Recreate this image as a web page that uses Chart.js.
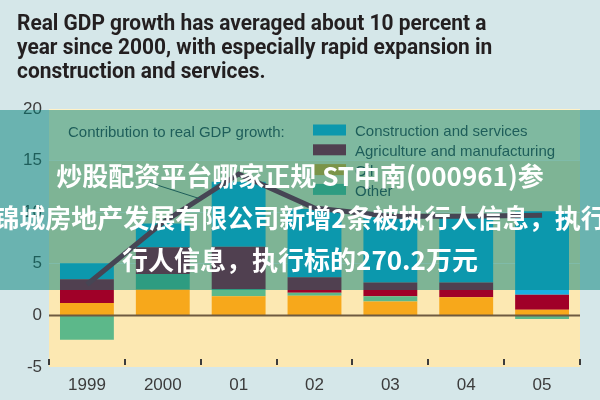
<!DOCTYPE html>
<html>
<head>
<meta charset="utf-8">
<script src="https://cdn.jsdelivr.net/npm/chart.js@4.4.1/dist/chart.umd.min.js"></script>
<style>
  html, body { margin: 0; padding: 0; background: #d5e7e9; }
  #wrap { position: relative; width: 600px; height: 400px; overflow: hidden; background: #d5e7e9; }
  #title { position: absolute; left: 17px; top: 11px; font: bold 22px Roboto, sans-serif; line-height: 24px;
           color: #231f20; transform-origin: left top; transform: scaleX(0.95); white-space: nowrap; }
  canvas { position: absolute; left: 0; top: 0; }
  #tint { position: absolute; left: 0; top: 110px; width: 600px; height: 180px; background: rgba(0,128,120,0.5); }
  .cn { position: absolute; left: 0; width: 600px; display: flex; justify-content: center; white-space: nowrap;
        font: bold 26px "Noto Sans CJK SC", sans-serif; color: #fff; line-height: 42px; }
</style>
</head>
<body>
<div id="wrap">
  <canvas id="gdp-chart" width="600" height="400"></canvas>
  <div id="title">Real GDP growth has averaged about 10 percent a<br>year since 2000, with especially rapid expansion in<br>construction and services.</div>
  <div id="tint"></div>
  <div class="cn" style="top:154px"><span>炒股配资平台哪家正规 ST中南(000961)参</span></div>
  <div class="cn" style="top:196px"><span>锦城房地产发展有限公司新增2条被执行人信息，执行</span></div>
  <div class="cn" style="top:238px"><span>行人信息，执行标的270.2万元</span></div>
</div>
<script>
// data (percentage points)
const years = ["1999", "2000", "01", "02", "03", "04", "05"];
const oil = [1.2, 2.5, 1.85, 1.9, 1.35, 1.75, 0.55];
const other = [-2.35, 1.5, 0.7, 0.3, 0.5, 0, -0.35];
const agriculture = [2.3, 2.6, 4.1, 1.5, 1.35, 1.45, 1.45];
const construction = [1.55, 2.3, 6.3, 6.6, 6.3, 6.4, 8.1];
const gdpGrowth = [3.0, 9.0, 13.7, 10.4, 9.6, 9.6, 9.7];
const yTicks = [-5, 0, 5, 10, 15, 20];

const textColor = "#3c3c3c";
const smallFont = '"Liberation Sans", Arial, sans-serif';

// cream plot area, a little lighter in the top band
const plotBackground = {
    id: "plotBackground",
    beforeDraw(chart) {
        const { ctx, chartArea: a, scales } = chart;
        ctx.save();
        ctx.fillStyle = "#fce8b2";
        ctx.fillRect(a.left, a.top, a.right - a.left, a.bottom - a.top);
        const y15 = scales.y.getPixelForValue(15);
        ctx.fillStyle = "#fff2c8";
        ctx.fillRect(a.left, a.top, a.right - a.left, y15 - a.top);
        ctx.restore();
    }
};

// zero line, bottom ticks, legend and the leader line
const decorations = {
    id: "decorations",
    afterDatasetsDraw(chart) {
        const { ctx, chartArea: a, scales } = chart;
        const x = scales.x, y = scales.y;
        const step = x.getPixelForValue(1) - x.getPixelForValue(0);
        ctx.save();

        // zero line
        const y0 = y.getPixelForValue(0);
        ctx.strokeStyle = "#6e5a40";
        ctx.lineWidth = 2;
        ctx.beginPath();
        ctx.moveTo(a.left, y0);
        ctx.lineTo(a.right, y0);
        ctx.stroke();

        // small ticks between the years
        ctx.strokeStyle = textColor;
        ctx.lineWidth = 2;
        for (let i = 0; i <= years.length; i++) {
            const px = Math.round(x.getPixelForValue(i) - step / 2);
            ctx.beginPath();
            ctx.moveTo(px, a.bottom - 8);
            ctx.lineTo(px, a.bottom - 2);
            ctx.stroke();
        }

        // leader line toward the growth line
        const i0 = 1, f = 0.49;
        const lx = x.getPixelForValue(i0) + f * step;
        const ly = y.getPixelForValue(gdpGrowth[i0] + f * (gdpGrowth[i0 + 1] - gdpGrowth[i0]));
        ctx.strokeStyle = textColor;
        ctx.lineWidth = 1;
        ctx.beginPath();
        ctx.moveTo(lx - 50, ly - 16);
        ctx.lineTo(lx, ly);
        ctx.stroke();

        // legend
        ctx.font = "15px " + smallFont;
        ctx.fillStyle = textColor;
        ctx.textBaseline = "middle";
        ctx.fillText("Contribution to real GDP growth:", a.left + 19, a.top + 24);
        [4, 3, 1, 2].forEach((di, k) => {
            const ds = chart.data.datasets[di];
            const cy = a.top + 21 + k * 19.8;
            ctx.fillStyle = ds.backgroundColor;
            ctx.fillRect(a.left + 264, cy - 5.5, 33, 11);
            ctx.fillStyle = textColor;
            ctx.fillText(ds.label, a.left + 306, cy + 2);
        });
        ctx.restore();
    }
};

const ctx = document.getElementById("gdp-chart").getContext("2d");
new Chart(ctx, {
    data: {
        labels: years,
        datasets: [
            { type: "line", label: "Real GDP growth", data: gdpGrowth, stack: "gdp", order: 0,
              borderColor: "#8c0a30", borderWidth: 5, pointRadius: 0, tension: 0, fill: false },
            { type: "bar", label: "Oil", data: oil, stack: "c", order: 1, backgroundColor: "#f7a81b" },
            { type: "bar", label: "Other", data: other, stack: "c", order: 1, backgroundColor: "#5cb88a" },
            { type: "bar", label: "Agriculture and manufacturing", data: agriculture, stack: "c", order: 1, backgroundColor: "#a00028" },
            { type: "bar", label: "Construction and services", data: construction, stack: "c", order: 1, backgroundColor: "#18b0e2" }
        ]
    },
    options: {
        responsive: false,
        animation: false,
        layout: { padding: { top: 109, right: 20, left: 0, bottom: 0 } },
        datasets: { bar: { categoryPercentage: 1, barPercentage: 0.71, borderWidth: 0 } },
        plugins: { legend: { display: false }, tooltip: { enabled: false }, title: { display: false } },
        scales: {
            x: {
                stacked: true,
                grid: { display: false },
                border: { display: false },
                ticks: { color: textColor, font: { family: smallFont, size: 17 }, padding: 0 },
                afterFit(scale) { scale.height = 33; }
            },
            y: {
                stacked: true,
                min: -5,
                max: 20,
                afterBuildTicks(scale) { scale.ticks = yTicks.map(v => ({ value: v })); },
                grid: {
                    drawTicks: false,
                    color: c => (c.tick.value === 0 || c.tick.value === -5 || c.tick.value === 20) ? "rgba(0,0,0,0)" : "#fff6da",
                    lineWidth: 1
                },
                border: { display: false },
                ticks: { color: textColor, font: { family: smallFont, size: 17 }, padding: 7 },
                afterFit(scale) { scale.width = 49; }
            }
        }
    },
    plugins: [plotBackground, decorations]
});
</script>
</body>
</html>
